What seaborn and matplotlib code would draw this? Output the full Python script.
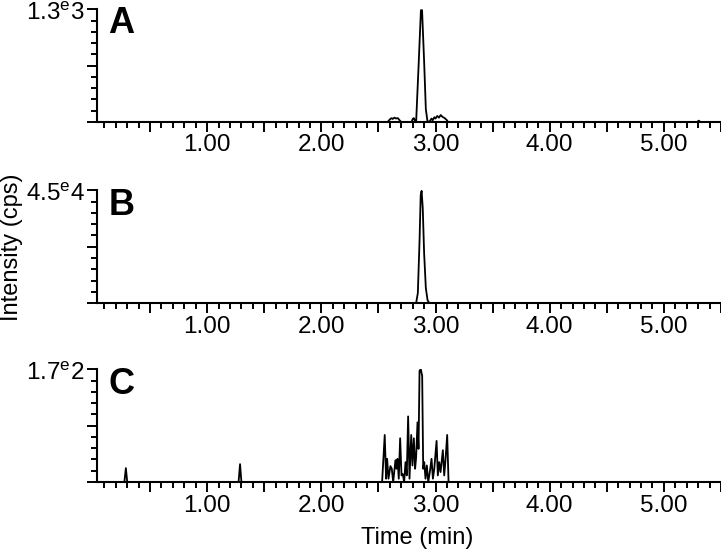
import pandas as pd
import matplotlib.pyplot as plt
from matplotlib.ticker import MultipleLocator, FixedLocator, FuncFormatter, NullFormatter
import seaborn as sns

# Chromatogram A (cps vs min)
time_a = [0.035, 2.58, 2.60, 2.615, 2.625, 2.64, 2.655, 2.67, 2.685, 2.70, 2.79, 2.80, 2.81, 2.82,
          2.83, 2.85, 2.872, 2.882, 2.90, 2.915, 2.93, 2.95, 2.965, 2.975, 2.99, 3.00, 3.015,
          3.03, 3.045, 3.06, 3.08, 3.10, 3.11, 5.29, 5.305, 5.32, 5.5]
int_a = [0, 0, 30, 45, 35, 50, 40, 45, 20, 0, 0, 35, 45, 10,
         0, 600, 1290, 1290, 700, 150, 0, 10, 40, 20, 55, 40, 70,
         50, 80, 60, 45, 20, 0, 0, 15, 0, 0]

# Chromatogram B
time_b = [0.035, 2.83, 2.845, 2.86, 2.87, 2.878, 2.888, 2.90, 2.915, 2.93, 2.945, 5.5]
int_b = [0, 0, 4000, 25000, 43000, 44800, 38000, 20000, 6000, 1200, 0, 0]

# Chromatogram C
time_c = [0.035, 0.275, 0.288, 0.30, 1.275, 1.288, 1.30,
          2.532, 2.555, 2.567, 2.576, 2.588, 2.605, 2.617, 2.629, 2.649, 2.658, 2.667,
          2.678, 2.690, 2.702, 2.713, 2.725, 2.737, 2.748, 2.760, 2.772, 2.787, 2.798,
          2.810, 2.821, 2.830, 2.842, 2.851, 2.860, 2.871, 2.883, 2.892, 2.901, 2.912,
          2.924, 2.936, 2.950, 2.965, 2.977, 2.989, 3.009, 3.020, 3.032, 3.044, 3.064,
          3.076, 3.088, 3.102, 3.114, 5.5]
int_c = [0, 0, 21, 0, 0, 27, 0,
         0, 71, 5, 35, 5, 24, 20, 0, 33, 20, 35,
         5, 66, 10, 12, 0, 30, 10, 99, 5, 71, 25,
         66, 20, 37, 90, 50, 168, 170, 160, 20, 30, 5,
         25, 0, 15, 35, 5, 20, 62, 10, 30, 15, 48,
         10, 35, 71, 0, 0]

letters = ["A", "B", "C"]
ymaxes = [1300, 45000, 170]
top_labels = [r"1.3$^{\mathregular{e}}$3", r"4.5$^{\mathregular{e}}$4", r"1.7$^{\mathregular{e}}$2"]

sns.set_style("ticks")
plt.rcParams['font.family'] = ['Liberation Sans', 'DejaVu Sans']
plt.rcParams['mathtext.fontset'] = 'custom'
plt.rcParams['mathtext.rm'] = 'Liberation Sans'
for key in ['text.color', 'axes.labelcolor', 'xtick.color', 'ytick.color', 'axes.edgecolor']:
    plt.rcParams[key] = 'black'

fig = plt.figure(figsize=(7.21, 5.51), dpi=100)
bottoms = [0.7786, 0.450, 0.1252]

series = [(time_a, int_a), (time_b, int_b), (time_c, int_c)]
for (t, v), letter, ymax, lab, b in zip(series, letters, ymaxes, top_labels, bottoms):
    ax = fig.add_axes([0.1345, b, 0.8655, 0.2045])
    df = pd.DataFrame({'Time': t, 'Intensity': v})
    sns.lineplot(data=df, x='Time', y='Intensity', ax=ax, color='black',
                 linewidth=1.3, estimator=None, sort=False)
    ax.set_xlim(0.035, 5.5)
    ax.set_ylim(0, ymax)
    ax.set_xlabel('')
    ax.set_ylabel('')

    ax.xaxis.set_major_locator(MultipleLocator(0.5))
    ax.xaxis.set_minor_locator(MultipleLocator(0.1))
    ax.xaxis.set_major_formatter(FuncFormatter(
        lambda x, p: f"{x:.2f}" if abs(x - round(x)) < 1e-6 else ""))

    ax.yaxis.set_major_locator(FixedLocator([0, ymax / 2, ymax]))
    ax.yaxis.set_minor_locator(FixedLocator([ymax * i / 10 for i in range(11)]))
    ax.yaxis.set_major_formatter(NullFormatter())
    # top-of-scale label, sitting a little below the top tick
    ax.annotate(lab, xy=(0, ymax), xycoords=('axes fraction', 'data'),
                xytext=(-9, -3), textcoords='offset points',
                ha='right', va='center', fontsize=17.5, color='black',
                annotation_clip=False)

    ax.tick_params(which='major', length=7, width=1.4, labelsize=17.5, pad=2,
                   color='black', labelcolor='black')
    ax.tick_params(which='minor', length=4, width=1.4, color='black')
    sns.despine(ax=ax)
    for sp in ['left', 'bottom']:
        ax.spines[sp].set_linewidth(1.5)
        ax.spines[sp].set_color('black')

    ax.text(0.018, 1.025, letter, transform=ax.transAxes, fontsize=26,
            fontweight='bold', va='top', ha='left', color='black')

fig.text(0.017, 0.552, "Intensity (cps)", rotation=90, va='center', ha='center',
         fontsize=17, color='black')
fig.text(0.578, 0.024, "Time (min)", va='center', ha='center', fontsize=17, color='black')

fig.savefig('out.png', dpi=100)
